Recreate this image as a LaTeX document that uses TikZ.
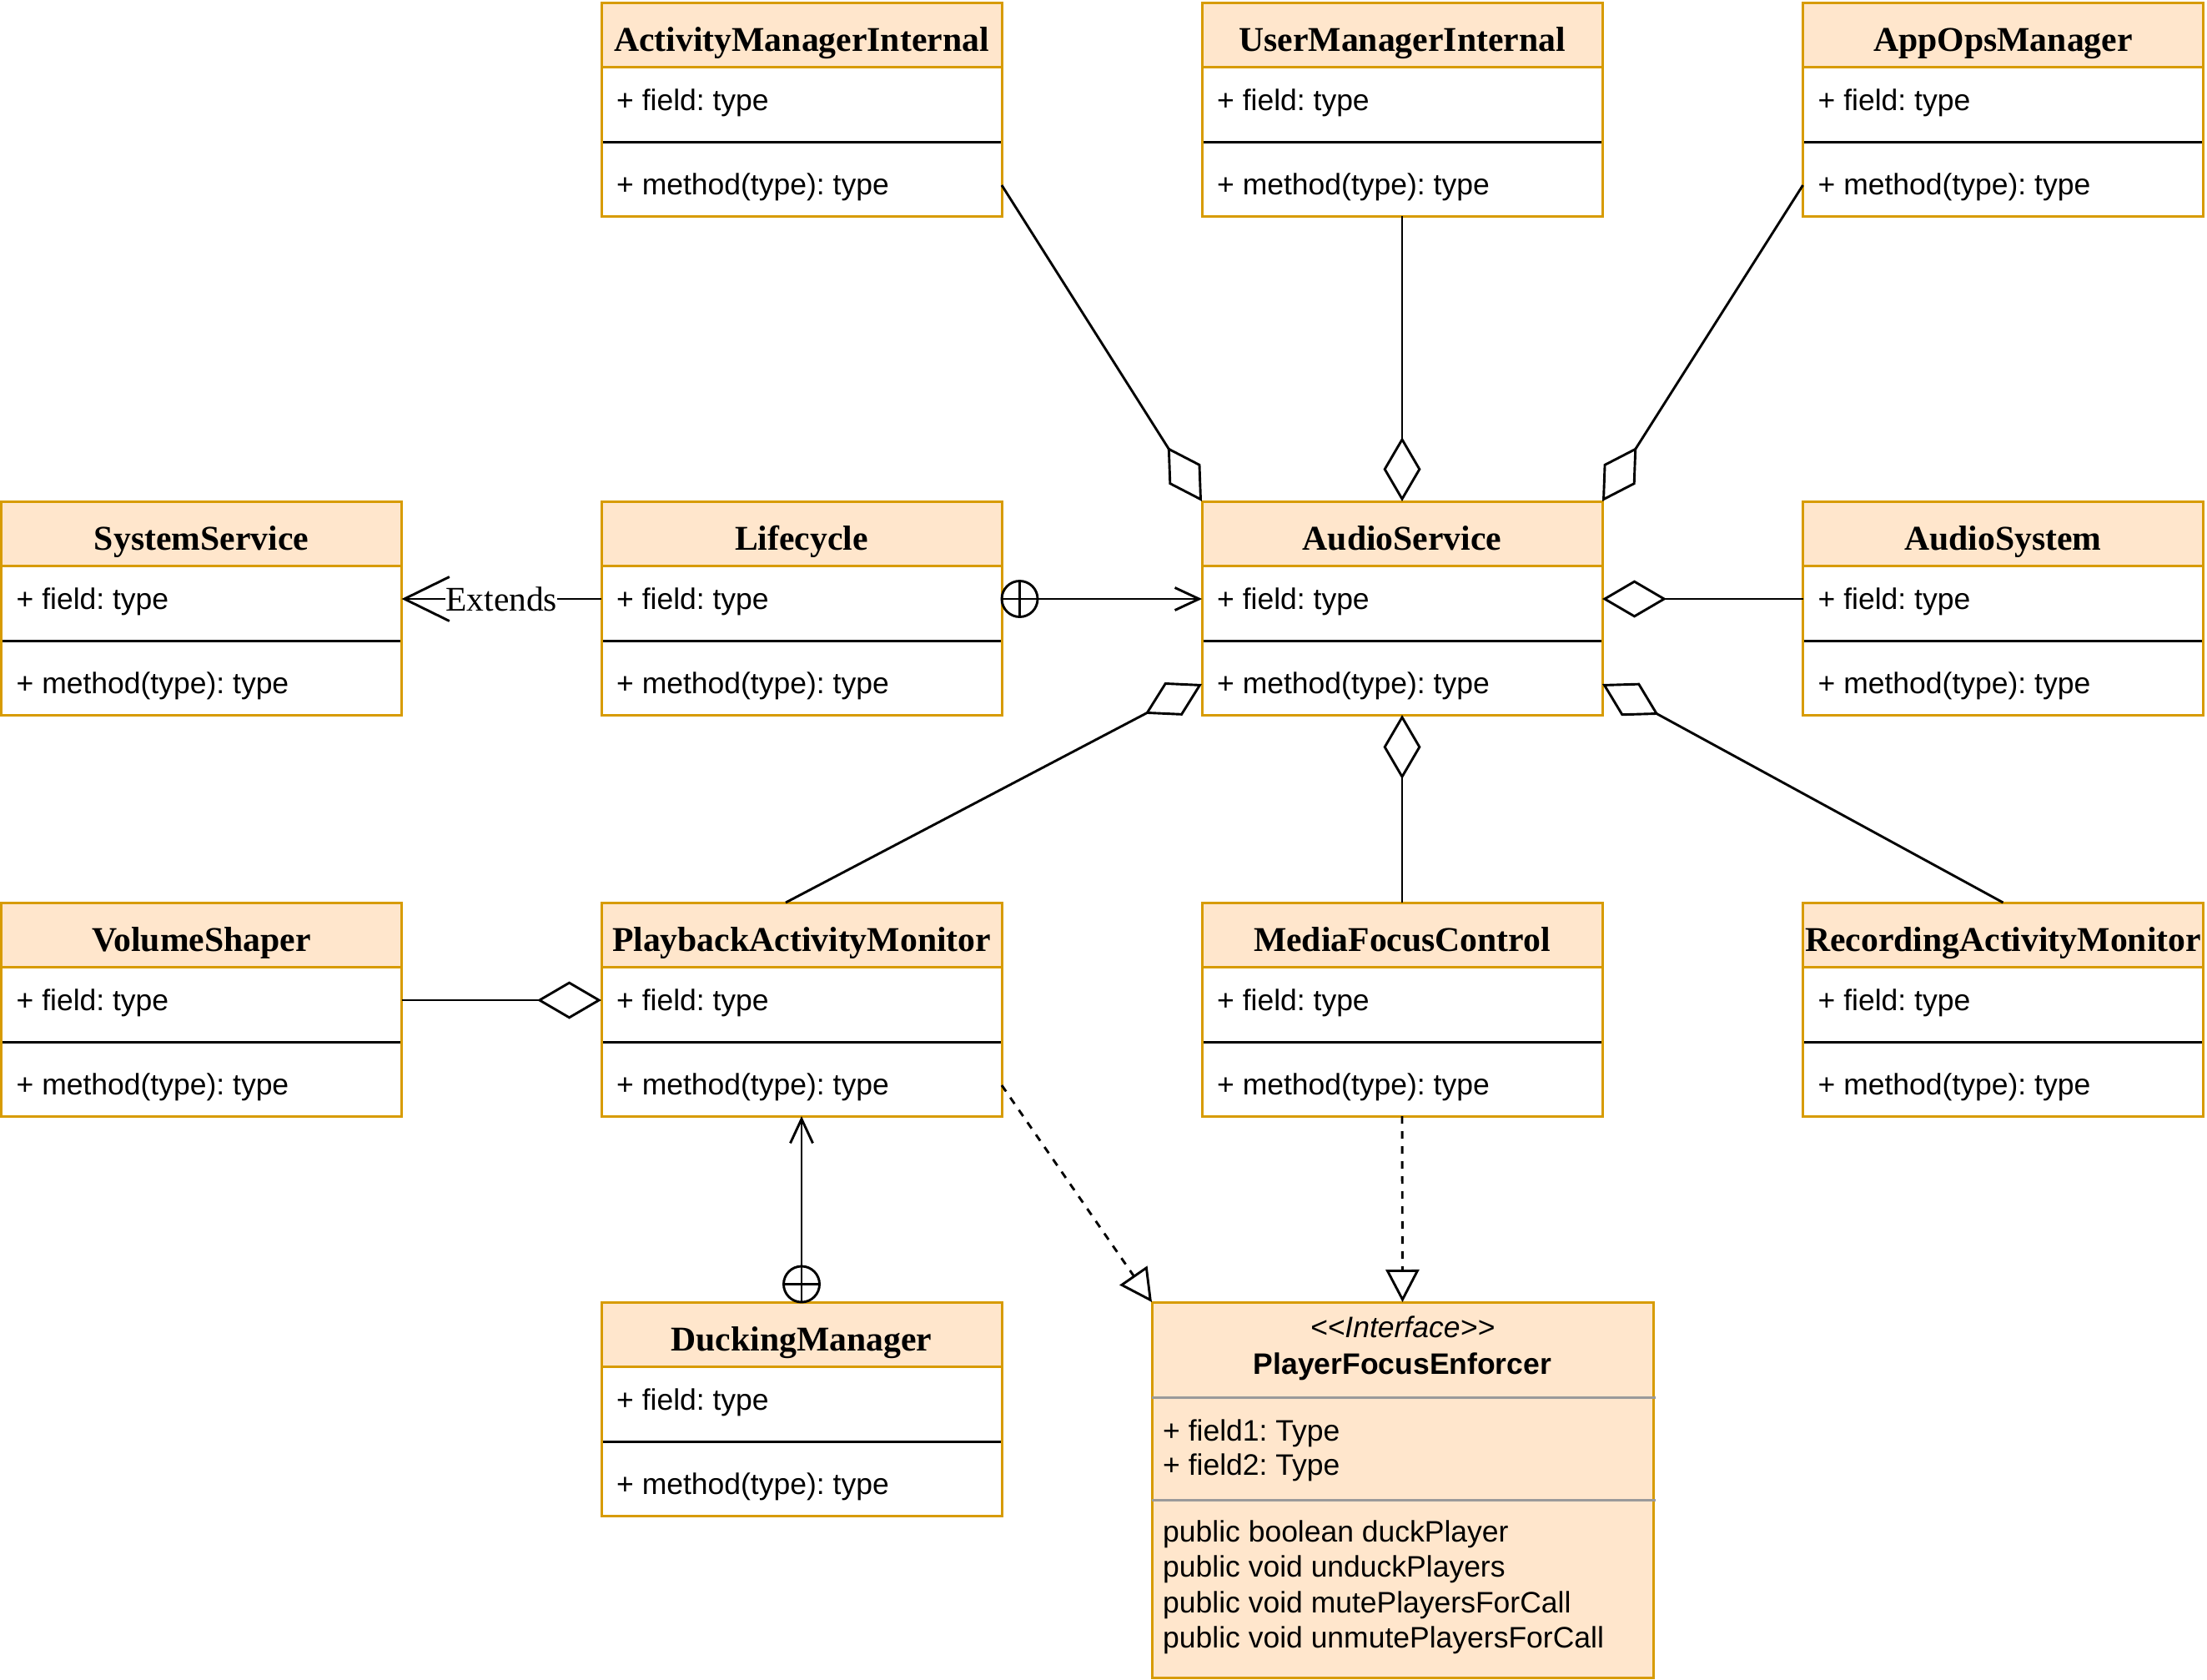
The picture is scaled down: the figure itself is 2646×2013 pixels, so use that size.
\documentclass[tikz,border=0pt]{standalone}
\usepackage{fontspec}
\setmainfont{Liberation Sans}
\newfontfamily\tnr{Liberation Serif}
\usetikzlibrary{arrows.meta}
\frenchspacing
\definecolor{umlorange}{HTML}{D79B00}
\definecolor{umlpeach}{HTML}{FFE6CC}
\definecolor{sepgray}{HTML}{9A9A9A}
\tikzset{
  boxnode/.style={draw=umlorange, line width=3pt, minimum width=480pt, minimum height=256pt, inner sep=0pt, outer sep=0pt},
  hdrline/.style={draw=umlorange, line width=3pt},
  sepline/.style={draw=black, line width=3pt},
  hdrtxt/.style={font=\tnr\bfseries\fontsize{41.7}{50}\selectfont, inner sep=0pt, anchor=base},
  bodytxt/.style={font=\fontsize{35.5}{42}\selectfont, inner sep=0pt, anchor=base west},
  conn/.style={draw=black, line width=2.9pt},
  agg/.style={conn, -{Diamond[open, length=77pt, width=45pt]}},
  nav/.style={conn, -{Straight Barb[length=29pt, width=27pt]}},
  extarrow/.style={conn, -{Straight Barb[length=54pt, width=53pt]}},
  realize/.style={conn, dash pattern=on 9pt off 9pt, -{Triangle[open, length=39pt, width=40pt]}},
  nestcirc/.style={circle, draw=black, line width=2.9pt, minimum size=43pt, inner sep=0pt, outer sep=0pt},
  lbl/.style={fill=white, inner sep=0pt, font=\tnr\fontsize{41.5}{48}\selectfont},
}
\newcommand{\umlclass}[4]{%
  \fill[umlpeach] (#2,#3) rectangle ++(480,77);
  \draw[hdrline] (#2,#3+77) -- ++(480,0);
  \draw[sepline] (#2,#3+167) -- ++(480,0);
  \node[boxnode, anchor=north west] (#1) at (#2,#3) {};
  \node[hdrtxt] (#1-t) at (#2+240,#3+58) {#4};
  \node[bodytxt] (#1-f) at (#2+18,#3+129) {+ field: type};
  \node[bodytxt] (#1-m) at (#2+18,#3+230) {+ method(type): type};
  \coordinate (#1-fl) at (#2,#3+117);
  \coordinate (#1-fr) at (#2+480,#3+117);
  \coordinate (#1-ml) at (#2,#3+219);
  \coordinate (#1-mr) at (#2+480,#3+219);
}
\begin{document}
\begin{tikzpicture}[x=1pt, y=-1pt]
\useasboundingbox (0,0) rectangle (2646,2013);
% classes
\umlclass{ami}{721}{3}{ActivityManagerInternal}
\umlclass{umi}{1441}{3}{UserManagerInternal}
\umlclass{aom}{2161.5}{3}{AppOpsManager}
\umlclass{ss}{1.5}{601}{SystemService}
\umlclass{lc}{721}{601}{Lifecycle}
\umlclass{as}{1441}{601}{AudioService}
\umlclass{asys}{2161.5}{601}{AudioSystem}
\umlclass{vs}{1.5}{1082}{VolumeShaper}
\umlclass{pam}{721}{1082}{PlaybackActivityMonitor}
\umlclass{mfc}{1441}{1082}{MediaFocusControl}
\umlclass{ram}{2161.5}{1082}{RecordingActivityMonitor}
\umlclass{dm}{721}{1561}{DuckingManager}
% interface
\node[draw=umlorange, fill=umlpeach, line width=3pt, minimum width=601pt, minimum height=450pt, inner sep=0pt, outer sep=0pt, anchor=north west] (pfe) at (1381,1561) {};
\draw[draw=sepgray, line width=3pt] (1381,1675) -- (1985,1675);
\draw[draw=sepgray, line width=3pt] (1381,1798) -- (1985,1798);
\node[font=\itshape\fontsize{35.5}{42}\selectfont, inner sep=0pt, anchor=base] (pfe-s) at (1681.5,1603) {<{}<Interface>{}>};
\node[font=\bfseries\fontsize{35.5}{42}\selectfont, inner sep=0pt, anchor=base] (pfe-t) at (1681.5,1647) {PlayerFocusEnforcer};
\node[bodytxt] (pfe-f1) at (1394,1727) {+ field1: Type};
\node[bodytxt] (pfe-f2) at (1394,1768) {+ field2: Type};
\node[bodytxt] (pfe-m1) at (1394,1848) {public boolean duckPlayer};
\node[bodytxt] (pfe-m2) at (1394,1890) {public void unduckPlayers};
\node[bodytxt] (pfe-m3) at (1394,1933) {public void mutePlayersForCall};
\node[bodytxt] (pfe-m4) at (1394,1975) {public void unmutePlayersForCall};
% connectors
\draw[agg] (ami-mr) -- (as.north west);
\draw[agg] (umi.south) -- (as.north);
\draw[agg] (aom-ml) -- (as.north east);
\draw[agg] (asys-fl) -- (as-fr);
\draw[agg] ([xshift=-19pt]pam.north) -- (as-ml);
\draw[agg] (mfc.north) -- (as.south);
\draw[agg] (ram.north) -- (as-mr);
\draw[agg] (vs-fr) -- (pam-fl);
% Lifecycle nested -> AudioService
\node[nestcirc] (lcx) at (1222.5,718) {};
\draw[conn] (lcx.north) -- (lcx.south);
\draw[nav] (lc-fr) -- (as-fl);
% Extends
\draw[extarrow] (lc-fl) -- node[lbl] (extl) {Extends} (ss-fr);
% DuckingManager nested -> PlaybackActivityMonitor
\node[nestcirc] (dmx) at (961,1539.5) {};
\draw[conn] (dmx.west) -- (dmx.east);
\draw[nav] (dm.north) -- (pam.south);
% realizations
\draw[realize] (pam-mr) -- (pfe.north west);
\draw[realize] (mfc.south) -- (pfe.north);
\end{tikzpicture}
\end{document}
